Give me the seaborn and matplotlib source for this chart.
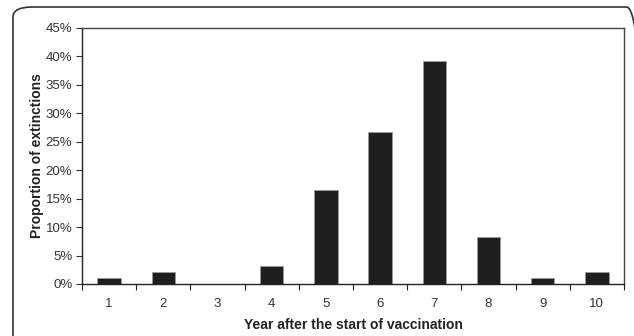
import matplotlib
matplotlib.use("Agg")
import matplotlib.pyplot as plt
import seaborn as sns
from matplotlib.patches import FancyBboxPatch
from matplotlib.ticker import FuncFormatter, MultipleLocator

# ============================
# DADOS
# ============================
anos = ["1", "2", "3", "4", "5", "6", "7", "8", "9", "10"]
proporcao = [1.03, 2.06, 0.0, 3.09, 16.49, 26.80, 39.18, 8.25, 1.03, 2.06]  # %

BARRA = "#1f1f1f"

sns.set_style("white")
plt.rcParams["font.family"] = ["Liberation Sans", "DejaVu Sans"]

fig = plt.figure(figsize=(6.34, 3.36), dpi=100)
ax = fig.add_axes([0.1293, 0.1548, 0.8549, 0.7619])

sns.barplot(x=anos, y=proporcao, color=BARRA, saturation=1, width=0.43,
            edgecolor="#9a9a9a", linewidth=0.6, ax=ax)

ax.set_xlim(-0.5, len(anos) - 0.5)
ax.set_ylim(0, 45)
ax.yaxis.set_major_locator(MultipleLocator(5))
ax.yaxis.set_major_formatter(FuncFormatter(lambda v, p: f"{v:.0f}%"))

# marcas do eixo x entre as categorias
ax.set_xticks([i - 0.5 for i in range(len(anos) + 1)], minor=True)
ax.tick_params(axis="x", which="major", length=0, pad=10, labelsize=9.5, colors="#333333")
ax.tick_params(axis="x", which="minor", length=4, width=0.8, direction="out",
               color="#222222", bottom=True)
ax.tick_params(axis="y", which="major", length=4, width=0.8, direction="out",
               labelsize=9.5, colors="#333333", left=True, pad=3)

for lado in ["left", "bottom"]:
    ax.spines[lado].set_color("#222222")
    ax.spines[lado].set_linewidth(1.0)
for lado in ["top", "right"]:
    ax.spines[lado].set_color("#444444")
    ax.spines[lado].set_linewidth(1.0)

ax.set_xlabel("Year after the start of vaccination", fontsize=10,
              fontweight="bold", labelpad=6, color="#222222")
ax.set_ylabel("Proportion of extinctions", fontsize=10,
              fontweight="bold", labelpad=1, color="#222222")

# moldura arredondada da figura
moldura = FancyBboxPatch((13 / 634, -0.05), (633 - 13) / 634 + 0.02, 1.05 - 7 / 336,
                         boxstyle="round,pad=0,rounding_size=0.03",
                         transform=fig.transFigure, fill=False,
                         edgecolor="#333333", linewidth=1.2, clip_on=False)
fig.patches.append(moldura)

fig.savefig("out.png", dpi=100)
